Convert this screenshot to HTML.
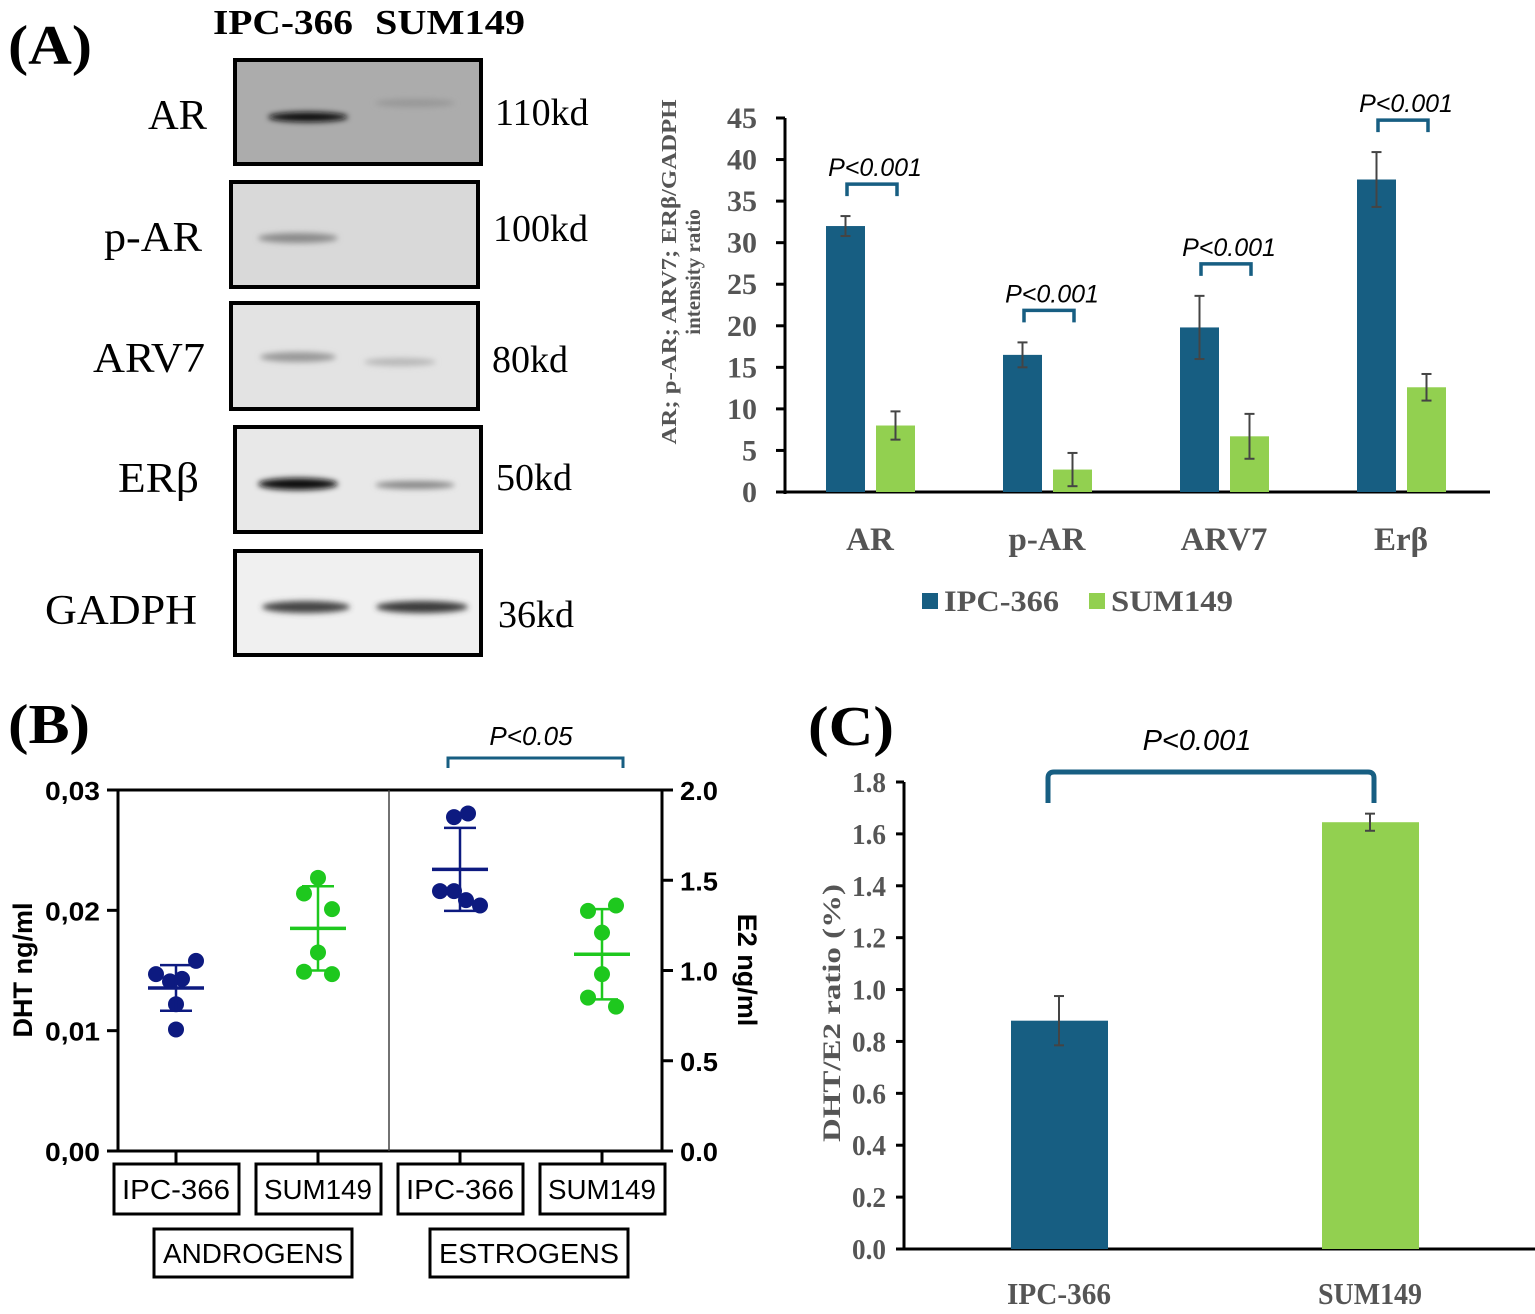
<!DOCTYPE html>
<html><head><meta charset="utf-8"><style>
html,body{margin:0;padding:0;background:#fff;}
svg{display:block;}
.serif{font-family:"Liberation Serif",serif;}
.sans{font-family:"Liberation Sans",sans-serif;}
</style></head><body>
<svg id="fig" width="1535" height="1314" viewBox="0 0 1535 1314" xmlns="http://www.w3.org/2000/svg">
<defs>
<filter id="blur3" x="-20%" y="-100%" width="140%" height="300%"><feGaussianBlur stdDeviation="3"/></filter>
</defs>
<g>
<text x="8" y="64" class="serif" font-size="56" font-weight="bold" textLength="84" lengthAdjust="spacingAndGlyphs">(A)</text>
<text x="213" y="34" class="serif" font-size="35" font-weight="bold" textLength="140" lengthAdjust="spacingAndGlyphs">IPC-366</text>
<text x="375" y="34" class="serif" font-size="35" font-weight="bold" textLength="150" lengthAdjust="spacingAndGlyphs">SUM149</text>

<rect x="235" y="60" width="246" height="104" fill="#acacac" stroke="#000" stroke-width="4"/>
<ellipse cx="308" cy="117" rx="40" ry="5" fill="#111" filter="url(#blur3)"/>
<ellipse cx="415" cy="103" rx="40" ry="4" fill="#989898" filter="url(#blur3)"/>
<rect x="231" y="182" width="247" height="105" fill="#d9d9d9" stroke="#000" stroke-width="4"/>
<ellipse cx="298" cy="238" rx="40" ry="5" fill="#8a8a8a" filter="url(#blur3)"/>
<rect x="231" y="303" width="247" height="106" fill="#e3e3e3" stroke="#000" stroke-width="4"/>
<ellipse cx="298" cy="357" rx="38" ry="5" fill="#999" filter="url(#blur3)"/>
<ellipse cx="400" cy="362" rx="36" ry="4" fill="#b8b8b8" filter="url(#blur3)"/>
<rect x="235" y="427" width="246" height="105" fill="#e8e8e8" stroke="#000" stroke-width="4"/>
<ellipse cx="298" cy="484" rx="40" ry="6" fill="#111" filter="url(#blur3)"/>
<ellipse cx="415" cy="485" rx="40" ry="4" fill="#888" filter="url(#blur3)"/>
<rect x="235" y="551" width="246" height="104" fill="#f0f0f0" stroke="#000" stroke-width="4"/>
<ellipse cx="306" cy="607" rx="44" ry="6" fill="#444" filter="url(#blur3)"/>
<ellipse cx="422" cy="607" rx="46" ry="6" fill="#3a3a3a" filter="url(#blur3)"/>

<g class="serif" font-size="42" lengthAdjust="spacingAndGlyphs">
<text x="148" y="129" textLength="59" lengthAdjust="spacingAndGlyphs">AR</text>
<text x="104" y="251" textLength="98" lengthAdjust="spacingAndGlyphs">p-AR</text>
<text x="93" y="372" textLength="112" lengthAdjust="spacingAndGlyphs">ARV7</text>
<text x="118" y="492" textLength="81" lengthAdjust="spacingAndGlyphs">ERβ</text>
<text x="45" y="624" textLength="152" lengthAdjust="spacingAndGlyphs">GADPH</text>
</g>
<g class="serif" font-size="38">
<text x="495" y="125">110kd</text>
<text x="493" y="241">100kd</text>
<text x="492" y="372">80kd</text>
<text x="496" y="490">50kd</text>
<text x="498" y="627">36kd</text>
</g>
</g>
<g id="chartA"></g>
<g id="chartB"></g>
<g id="chartC"></g>
</svg>
<script>
// ---------- Chart A data ----------
const aCategories = ["AR","p-AR","ARV7","Erβ"];
const aIPC = [32, 16.5, 19.8, 37.6];
const aSUM = [8, 2.7, 6.7, 12.6];
const aIPCerr = [1.2, 1.5, 3.8, 3.3];
const aSUMerr = [1.7, 2.0, 2.7, 1.6];
const aTicks = [0,5,10,15,20,25,30,35,40,45];
const aPvals = ["P<0.001","P<0.001","P<0.001","P<0.001"];

// ---------- Chart B data ----------
const bGroups = ["IPC-366","SUM149","IPC-366","SUM149"];
const bAndroIPC = [0.0147,0.0158,0.0141,0.0143,0.0122,0.0101];
const bAndroSUM = [0.0227,0.0214,0.0201,0.0165,0.0149,0.0147];
const bEstroIPC = [1.85,1.87,1.44,1.44,1.39,1.36];
const bEstroSUM = [1.33,1.36,1.21,0.98,0.85,0.80];
const bMeans = [0.01355,0.0185,1.56,1.09];
const bSD = [0.0019,0.0035,0.23,0.25];
const bLeftTicks = ["0,00","0,01","0,02","0,03"];
const bLeftTickVals = [0,0.01,0.02,0.03];
const bRightTicks = ["0.0","0.5","1.0","1.5","2.0"];
const bRightTickVals = [0,0.5,1,1.5,2];

// ---------- Chart C data ----------
const cCategories = ["IPC-366","SUM149"];
const cValues = [0.88, 1.645];
const cErr = [0.095, 0.033];
const cTicks = ["0.0","0.2","0.4","0.6","0.8","1.0","1.2","1.4","1.6","1.8"];
const cTickVals = [0,0.2,0.4,0.6,0.8,1.0,1.2,1.4,1.6,1.8];

const NS="http://www.w3.org/2000/svg";
function mk(parent, tag, attrs, text){
  const e=document.createElementNS(NS,tag);
  for(const k in attrs) e.setAttribute(k,attrs[k]);
  if(text!==undefined) e.textContent=text;
  parent.appendChild(e);
  return e;
}
const BLUE="#175e82", GREEN="#92d050", NAVY="#0d1a80", LGREEN="#1ec81e";

// ===== Chart A =====
(function(){
  const g=document.getElementById('chartA');
  const x0=785, y0=492, yTop=118, vmax=45;
  const ya=v=>y0-(v/vmax)*(y0-yTop);
  const groupX=i=>870+i*177;
  let e;
  e=mk(g,'line',{x1:x0,y1:yTop,x2:x0,y2:y0+2,stroke:'#000','stroke-width':3});
   
  e=mk(g,'line',{x1:x0-2,y1:y0,x2:1490,y2:y0,stroke:'#000','stroke-width':3});
   
  aTicks.forEach(t=>{
    mk(g,'line',{x1:x0-9,y1:ya(t),x2:x0,y2:ya(t),stroke:'#000','stroke-width':3});
    e=mk(g,'text',{x:x0-28,y:ya(t)+10,'text-anchor':'end','font-family':'Liberation Serif, serif','font-size':30,'font-weight':'bold',fill:'#555'},String(t));
     
  });
  e=mk(g,'text',{transform:'translate(676,272) rotate(-90)','text-anchor':'middle','font-family':'Liberation Serif, serif','font-size':21,'font-weight':'bold',fill:'#555',textLength:345,lengthAdjust:'spacingAndGlyphs'},'AR; p-AR; ARV7; ERβ/GADPH');
   
  e=mk(g,'text',{transform:'translate(700,272) rotate(-90)','text-anchor':'middle','font-family':'Liberation Serif, serif','font-size':21,'font-weight':'bold',fill:'#555'},'intensity ratio');
   
  aCategories.forEach((c,i)=>{
    const cx=groupX(i);
    const bx1=cx-44, bx2=cx+6, w=39;
    e=mk(g,'rect',{x:bx1,y:ya(aIPC[i]),width:w,height:y0-ya(aIPC[i]),fill:BLUE});
     
    e=mk(g,'rect',{x:bx2,y:ya(aSUM[i]),width:w,height:y0-ya(aSUM[i]),fill:GREEN});
     
    [[bx1+w/2,aIPC[i],aIPCerr[i]],[bx2+w/2,aSUM[i],aSUMerr[i]]].forEach(([ex,v,er])=>{
      const eg=mk(g,'g',{stroke:'#444','stroke-width':2});
       
      mk(eg,'line',{x1:ex,y1:ya(v+er),x2:ex,y2:ya(v-er)});
      mk(eg,'line',{x1:ex-5,y1:ya(v+er),x2:ex+5,y2:ya(v+er)});
      mk(eg,'line',{x1:ex-5,y1:ya(v-er),x2:ex+5,y2:ya(v-er)});
    });
    e=mk(g,'text',{x:cx,y:550,'text-anchor':'middle','font-family':'Liberation Serif, serif','font-size':33,'font-weight':'bold',fill:'#555'},c);
     
    const top=Math.max(aIPC[i]+aIPCerr[i],aSUM[i]+aSUMerr[i]);
    const by=ya(top)-32;
    e=mk(g,'path',{d:`M${cx-23},${by+12} V${by} H${cx+27} V${by+12}`,fill:'none',stroke:BLUE,'stroke-width':3.5});
     
    e=mk(g,'text',{x:cx+5,y:by-8,'text-anchor':'middle','font-family':'Liberation Sans, sans-serif','font-size':25,'font-style':'italic'},aPvals[i]);
     
  });
  e=mk(g,'rect',{x:922,y:593,width:16,height:16,fill:BLUE});
   
  e=mk(g,'text',{x:944,y:611,'font-family':'Liberation Serif, serif','font-size':30,'font-weight':'bold',fill:'#555',textLength:115,lengthAdjust:'spacingAndGlyphs'},'IPC-366');
   
  e=mk(g,'rect',{x:1089,y:593,width:16,height:16,fill:GREEN});
   
  e=mk(g,'text',{x:1111,y:611,'font-family':'Liberation Serif, serif','font-size':30,'font-weight':'bold',fill:'#555',textLength:122,lengthAdjust:'spacingAndGlyphs'},'SUM149');
   
})();

// ===== Chart B =====
(function(){
  const g=document.getElementById('chartB');
  const xl=118, xr=662, y0=1151, yt=790;
  const yL=v=>y0-(v/0.03)*(y0-yt);
  const yR=v=>y0-(v/2)*(y0-yt);
  const gx=i=>176+i*142;
  let e;
  e=mk(g,'text',{x:8,y:743,'font-family':'Liberation Serif, serif','font-size':56,'font-weight':'bold',textLength:82,lengthAdjust:'spacingAndGlyphs'},'(B)');
   
  e=mk(g,'path',{d:`M${xl},${yt} V${y0} H${xr} V${yt} Z`,fill:'none',stroke:'#000','stroke-width':3});
   
  e=mk(g,'line',{x1:389,y1:yt,x2:389,y2:y0,stroke:'#444','stroke-width':1.5});
   
  bLeftTickVals.forEach((t,i)=>{
    mk(g,'line',{x1:xl-11,y1:yL(t),x2:xl,y2:yL(t),stroke:'#000','stroke-width':3});
    e=mk(g,'text',{x:45,y:yL(t)+10,'font-family':'Liberation Sans, sans-serif','font-size':26,'font-weight':'bold',textLength:55,lengthAdjust:'spacingAndGlyphs'},bLeftTicks[i]);
     
  });
  bRightTickVals.forEach((t,i)=>{
    mk(g,'line',{x1:xr,y1:yR(t),x2:xr+11,y2:yR(t),stroke:'#000','stroke-width':3});
    e=mk(g,'text',{x:680,y:yR(t)+10,'font-family':'Liberation Sans, sans-serif','font-size':26,'font-weight':'bold',textLength:38,lengthAdjust:'spacingAndGlyphs'},bRightTicks[i]);
     
  });
  e=mk(g,'text',{transform:'translate(32,970) rotate(-90)','text-anchor':'middle','font-family':'Liberation Sans, sans-serif','font-size':27,'font-weight':'bold'},'DHT ng/ml');
   
  e=mk(g,'text',{transform:'translate(738,970) rotate(90)','text-anchor':'middle','font-family':'Liberation Sans, sans-serif','font-size':27,'font-weight':'bold'},'E2 ng/ml');
   
  const series=[bAndroIPC,bAndroSUM,bEstroIPC,bEstroSUM];
  const cols=[NAVY,LGREEN,NAVY,LGREEN];
  const offs=[[-20,20,-6,6,0,0],[0,-14,14,0,-14,14],[-6,8,-20,-6,6,20],[-14,14,0,0,-14,14]];
  series.forEach((arr,i)=>{
    const sc=i<2?yL:yR, cx=gx(i);
    arr.forEach((v,j)=>{
      e=mk(g,'circle',{cx:cx+offs[i][j],cy:sc(v),r:8,fill:cols[i]});
       
    });
    const m=bMeans[i], s=bSD[i];
    const eg=mk(g,'g',{stroke:cols[i],'stroke-width':2.5});
     
    mk(eg,'line',{x1:cx-28,y1:sc(m),x2:cx+28,y2:sc(m),'stroke-width':3.5});
    mk(eg,'line',{x1:cx,y1:sc(m+s),x2:cx,y2:sc(m-s)});
    mk(eg,'line',{x1:cx-16,y1:sc(m+s),x2:cx+16,y2:sc(m+s)});
    mk(eg,'line',{x1:cx-16,y1:sc(m-s),x2:cx+16,y2:sc(m-s)});
    mk(g,'line',{x1:cx,y1:y0,x2:cx,y2:1163,stroke:'#000','stroke-width':3});
    e=mk(g,'rect',{x:cx-62,y:1164,width:125,height:50,fill:'#fff',stroke:'#000','stroke-width':3});
     
    e=mk(g,'text',{x:cx,y:1199,'text-anchor':'middle','font-family':'Liberation Sans, sans-serif','font-size':28,textLength:108,lengthAdjust:'spacingAndGlyphs'},bGroups[i]);
     
  });
  [["ANDROGENS",253],["ESTROGENS",529]].forEach(([t,cx])=>{
    e=mk(g,'rect',{x:cx-99,y:1229,width:198,height:48,fill:'#fff',stroke:'#000','stroke-width':3});
     
    e=mk(g,'text',{x:cx,y:1263,'text-anchor':'middle','font-family':'Liberation Sans, sans-serif','font-size':28,textLength:180,lengthAdjust:'spacingAndGlyphs'},t);
     
  });
  e=mk(g,'path',{d:'M448,768 V758 H623 V768',fill:'none',stroke:BLUE,'stroke-width':3});
   
  e=mk(g,'text',{x:531,y:745,'text-anchor':'middle','font-family':'Liberation Sans, sans-serif','font-size':26,'font-style':'italic'},'P<0.05');
   
})();

// ===== Chart C =====
(function(){
  const g=document.getElementById('chartC');
  const x0=904, y0=1249, yt=782, vmax=1.8;
  const yc=v=>y0-(v/vmax)*(y0-yt);
  const cx=[1059,1370];
  let e;
  e=mk(g,'text',{x:808,y:745,'font-family':'Liberation Serif, serif','font-size':56,'font-weight':'bold',textLength:86,lengthAdjust:'spacingAndGlyphs'},'(C)');
   
  e=mk(g,'line',{x1:x0,y1:yt,x2:x0,y2:y0,stroke:'#000','stroke-width':3});
   
  e=mk(g,'line',{x1:x0-8,y1:y0,x2:1535,y2:y0,stroke:'#000','stroke-width':3});
   
  cTickVals.forEach((t,i)=>{
    mk(g,'line',{x1:x0-8,y1:yc(t),x2:x0,y2:yc(t),stroke:'#000','stroke-width':3});
    e=mk(g,'text',{x:886,y:yc(t)+10,'text-anchor':'end','font-family':'Liberation Serif, serif','font-size':28,'font-weight':'bold',fill:'#555',textLength:34,lengthAdjust:'spacingAndGlyphs'},cTicks[i]);
     
  });
  e=mk(g,'text',{transform:'translate(840,1013) rotate(-90)','text-anchor':'middle','font-family':'Liberation Serif, serif','font-size':25,'font-weight':'bold',fill:'#555',textLength:258,lengthAdjust:'spacingAndGlyphs'},'DHT/E2  ratio (%)');
   
  const cols=[BLUE,GREEN];
  cCategories.forEach((c,i)=>{
    e=mk(g,'rect',{x:cx[i]-48,y:yc(cValues[i]),width:97,height:y0-yc(cValues[i]),fill:cols[i]});
     
    const v=cValues[i], er=cErr[i], ex=cx[i];
    const eg=mk(g,'g',{stroke:'#444','stroke-width':2});
     
    mk(eg,'line',{x1:ex,y1:yc(v+er),x2:ex,y2:yc(v-er)});
    mk(eg,'line',{x1:ex-5,y1:yc(v+er),x2:ex+5,y2:yc(v+er)});
    mk(eg,'line',{x1:ex-5,y1:yc(v-er),x2:ex+5,y2:yc(v-er)});
    e=mk(g,'text',{x:ex,y:1304,'text-anchor':'middle','font-family':'Liberation Serif, serif','font-size':31,'font-weight':'bold',fill:'#555',textLength:104,lengthAdjust:'spacingAndGlyphs'},c);
     
  });
  e=mk(g,'path',{d:'M1048,803 V778 Q1048,772 1054,772 H1368 Q1374,772 1374,778 V803',fill:'none',stroke:BLUE,'stroke-width':5});
   
  e=mk(g,'text',{x:1197,y:750,'text-anchor':'middle','font-family':'Liberation Sans, sans-serif','font-size':29,'font-style':'italic'},'P<0.001');
   
})();
</script>
</body></html>
